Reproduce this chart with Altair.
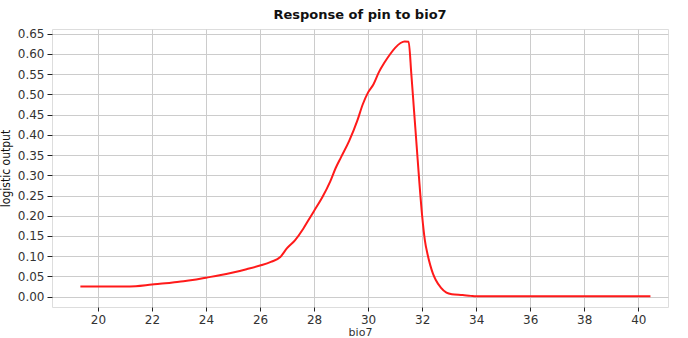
import altair as alt
import pandas as pd

bio7 = [19.35, 20.0, 21.0, 21.4, 22.0, 22.5, 23.0, 23.5, 24.0, 24.5, 25.0, 25.5,
        26.0, 26.4, 26.75, 27.0, 27.3, 27.6, 27.8, 28.0, 28.3, 28.6, 28.8, 29.0,
        29.3, 29.6, 29.8, 30.0, 30.2, 30.4, 30.6, 30.8, 31.0, 31.2, 31.35, 31.5,
        31.6, 31.7, 31.8, 31.9, 32.0, 32.1, 32.2, 32.3, 32.4, 32.5, 32.7, 32.9,
        33.1, 33.5, 33.8, 34.0, 36.0, 40.45]
logistic = [0.025, 0.025, 0.025, 0.026, 0.030, 0.033, 0.037, 0.041, 0.047, 0.053,
            0.060, 0.068, 0.077, 0.086, 0.098, 0.120, 0.140, 0.168, 0.190, 0.212,
            0.245, 0.285, 0.318, 0.345, 0.385, 0.435, 0.475, 0.505, 0.525, 0.555,
            0.578, 0.598, 0.615, 0.627, 0.631, 0.630, 0.550, 0.460, 0.370, 0.280,
            0.200, 0.140, 0.105, 0.078, 0.057, 0.042, 0.022, 0.010, 0.006, 0.004,
            0.002, 0.001, 0.001, 0.001]
x_ticks = [20, 22, 24, 26, 28, 30, 32, 34, 36, 38, 40]
y_ticks = [0.0, 0.05, 0.10, 0.15, 0.20, 0.25, 0.30, 0.35, 0.40, 0.45, 0.50, 0.55, 0.60, 0.65]

df = pd.DataFrame({"bio7": bio7, "out": logistic})

xscale = alt.Scale(domain=[18.3, 41.1], nice=False, zero=False)
yscale = alt.Scale(domain=[-0.0255, 0.6616], nice=False, zero=False)

lab = dict(labelFont="DejaVu Sans", labelFontSize=12, labelColor="#333333",
           domain=False, gridColor="#cccccc", gridWidth=1, tickColor="#222222")

chart = alt.Chart(df).mark_line(color="#ff1a1a", strokeWidth=2, interpolate="monotone").encode(
    x=alt.X("bio7:Q", scale=xscale,
            axis=alt.Axis(values=x_ticks, title="bio7", titleFont="DejaVu Sans",
                          titleFontSize=11, titleFontWeight="normal", titleColor="#333333",
                          titlePadding=1, tickSize=4, labelPadding=3, format="d", **lab)),
    y=alt.Y("out:Q", scale=yscale,
            axis=alt.Axis(values=y_ticks, format=".2f", title="logistic output",
                          titleFont="DejaVu Sans Condensed", titleFontSize=12,
                          titleFontWeight="normal", titleColor="#111111", titlePadding=5,
                          tickSize=5, labelPadding=3, **lab)),
).properties(
    width=616, height=278,
    title=alt.TitleParams("Response of pin to bio7", font="DejaVu Sans", fontSize=13,
                          fontWeight="bold", color="#111111", offset=6, anchor="middle"),
    autosize=alt.AutoSizeParams(type="none"),
    padding={"left": 52, "top": 29, "right": 20, "bottom": 31},
).configure_view(stroke="#222222", strokeWidth=1.2).configure(background="white")

chart.save("out.html", embed_options={"renderer": "svg", "actions": False})
